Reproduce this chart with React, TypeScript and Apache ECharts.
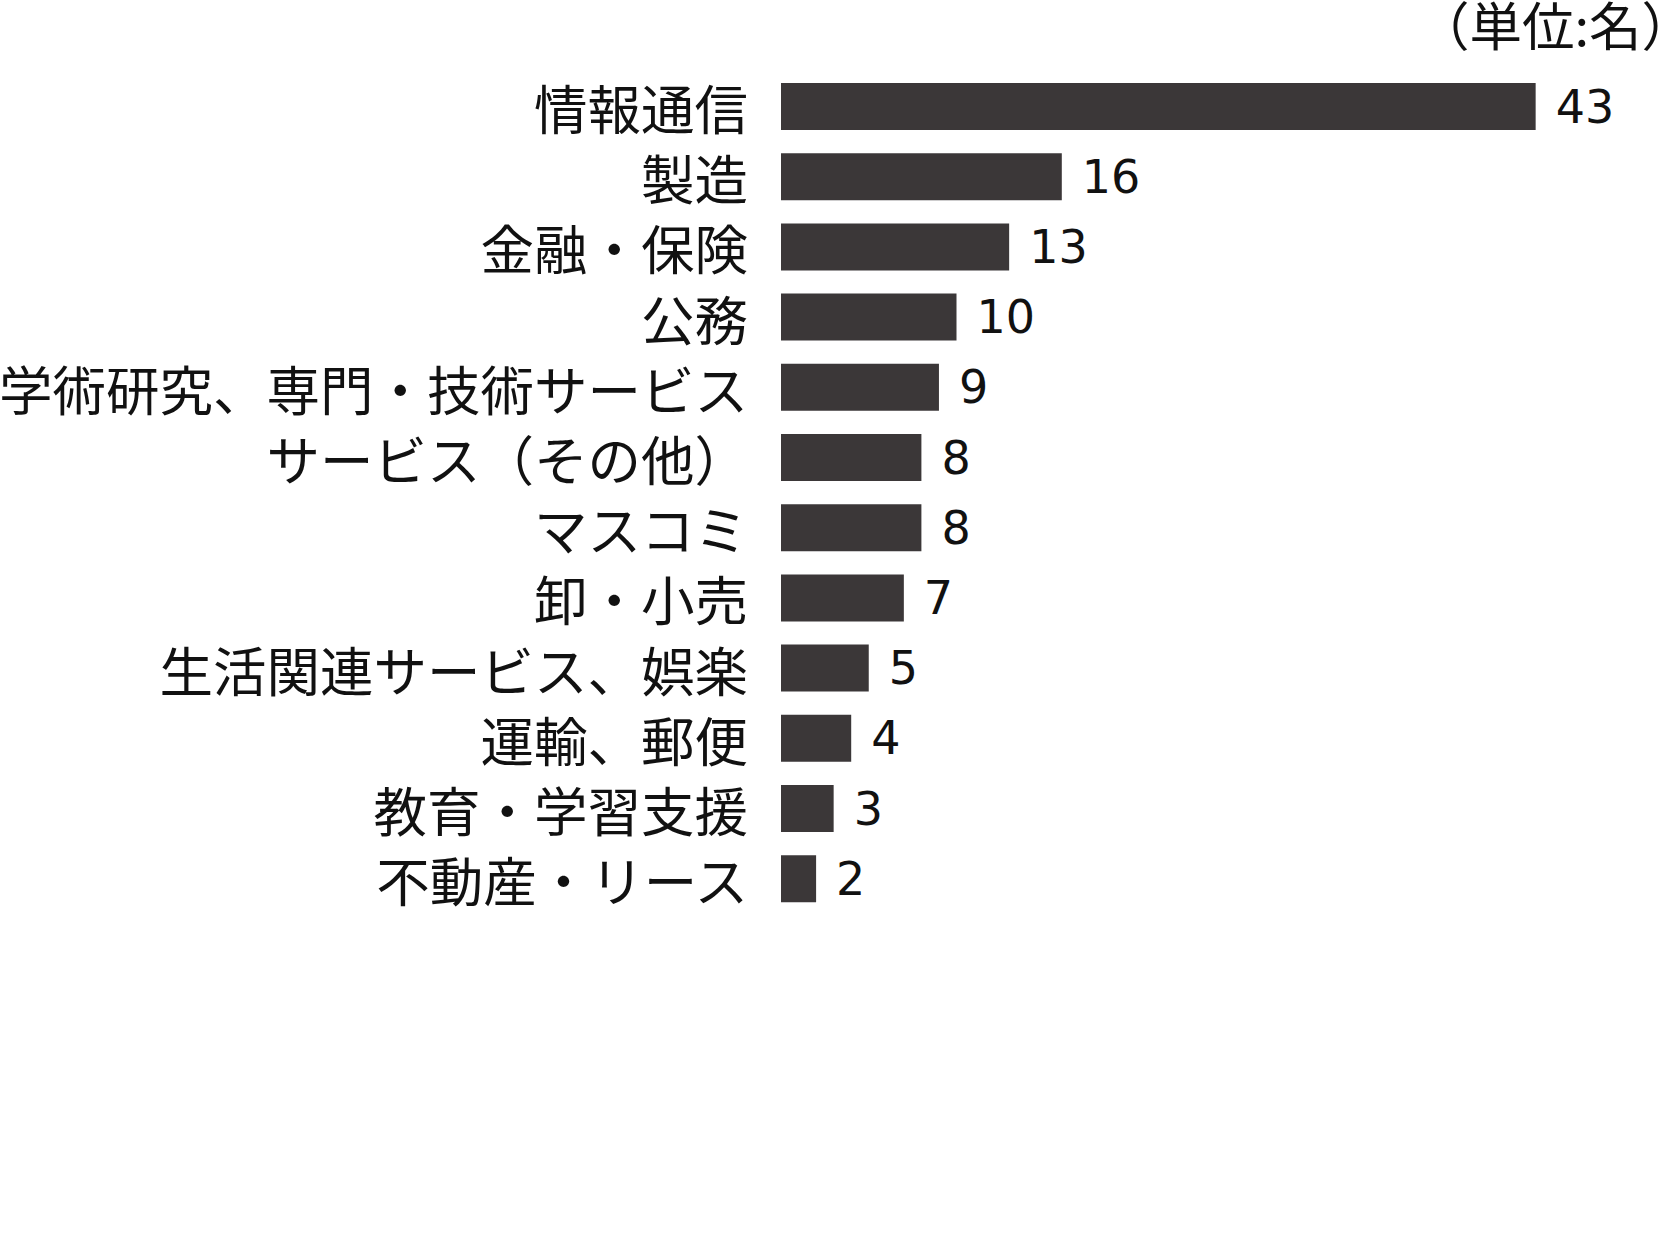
import React, { useEffect, useRef } from "react";
import * as echarts from "echarts";

const categories = [
  "情報通信",
  "製造",
  "金融・保険",
  "公務",
  "学術研究、専門・技術サービス",
  "サービス（その他）",
  "マスコミ",
  "卸・小売",
  "生活関連サービス、娯楽",
  "運輸、郵便",
  "教育・学習支援",
  "不動産・リース",
];
const counts = [43, 16, 13, 10, 9, 8, 8, 7, 5, 4, 3, 2];
const unitLabel = "（単位:名）";

function App() {
  const chartRef = useRef<HTMLDivElement>(null);

  useEffect(() => {
    const myChart = echarts.init(chartRef.current!, null, { renderer: "svg" });
    const option: echarts.EChartsOption = {
      animation: false,
      backgroundColor: "#ffffff",
      grid: {
        left: 781,
        top: 71.4,
        width: 877.5,
        height: 842.4,
        outerBoundsMode: "none",
      } as any,
      xAxis: {
        type: "value",
        min: 0,
        max: 50,
        show: false,
      },
      yAxis: {
        type: "category",
        data: categories,
        inverse: true,
        axisLine: { show: false },
        axisTick: { show: false },
        splitLine: { show: false },
        axisLabel: {
          margin: 33,
          fontSize: 53.5,
          lineHeight: 60,
          color: "#111",
          fontFamily: "Noto Sans CJK JP",
        },
      },
      graphic: [
        {
          type: "text",
          right: -27,
          top: -3,
          style: {
            text: unitLabel,
            fontSize: 52.5,
            fill: "#111",
            fontFamily: "Noto Sans CJK JP",
          },
        },
      ],
      series: [
        {
          type: "bar",
          data: counts,
          barWidth: 47,
          itemStyle: { color: "#3b3738" },
          label: {
            show: true,
            position: "right",
            distance: 20,
            fontSize: 46,
            color: "#111",
            fontFamily: "DejaVu Sans",
          },
        },
      ],
    };

    myChart.setOption(option);

    return () => {
      myChart.dispose();
    };
  }, []);

  return (
    <div
      ref={chartRef}
      style={{ position: "absolute", left: 0, top: 0, width: 1667, height: 1253 }}
    />
  );
}

export default App;
